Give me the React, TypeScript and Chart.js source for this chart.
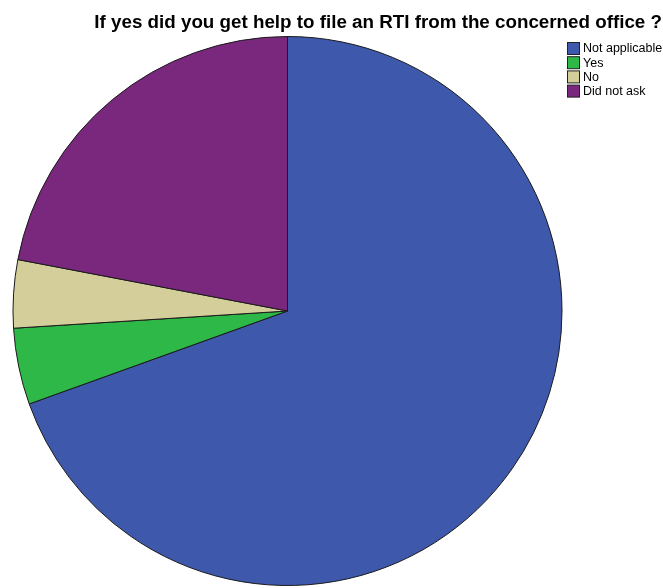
import { useEffect, useRef } from "react";
import { Chart, registerables } from "chart.js";
Chart.register(...registerables);

const TITLE = "If yes did you get help to file an RTI from the concerned office ?";
const categories = ["Not applicable", "Yes", "No", "Did not ask"];
const counts = [139, 9, 8, 44];
const colors = ["#3E58AC", "#2EB848", "#D4CE9A", "#79287D"];

export default function App() {
  const ref = useRef<HTMLCanvasElement>(null);
  useEffect(() => {
    const textPlugin = {
      id: "customText",
      afterDraw(chart: any) {
        const ctx = chart.ctx as CanvasRenderingContext2D;
        ctx.save();
        ctx.fillStyle = "#000";
        ctx.font = "bold 18.8px 'Liberation Sans', Arial, sans-serif";
        ctx.textAlign = "right";
        ctx.textBaseline = "alphabetic";
        ctx.fillText(TITLE, 662, 28);
        // legend
        ctx.font = "12.5px 'Liberation Sans', Arial, sans-serif";
        ctx.textAlign = "left";
        ctx.textBaseline = "middle";
        const x0 = 567.5;
        const y0 = 48.5;
        const step = 14.2;
        categories.forEach((c, i) => {
          const cy = y0 + i * step;
          ctx.fillStyle = colors[i];
          ctx.fillRect(x0, cy - 6, 12, 12);
          ctx.strokeStyle = "#222";
          ctx.lineWidth = 1;
          ctx.strokeRect(x0, cy - 6, 12, 12);
          ctx.fillStyle = "#000";
          ctx.fillText(c, 583, cy + 0.5);
        });
        ctx.restore();
      },
    };
    const chart = new Chart(ref.current as HTMLCanvasElement, {
      type: "pie",
      data: {
        labels: categories,
        datasets: [
          {
            data: counts,
            backgroundColor: colors,
            borderColor: "#1a1a1a",
            borderWidth: 1,
          },
        ],
      },
      options: {
        responsive: false,
        animation: false,
        layout: { padding: { left: 12.5, right: 100.5, top: 36, bottom: 2 } },
        plugins: {
          legend: { display: false },
          title: { display: false },
          tooltip: { enabled: false },
        },
      },
      plugins: [textPlugin],
    });
    return () => chart.destroy();
  }, []);
  return (
    <div style={{ position: "absolute", left: 0, top: 0, width: 663, height: 588, background: "#fff" }}>
      <canvas ref={ref} width={663} height={588} style={{ display: "block" }} />
    </div>
  );
}
